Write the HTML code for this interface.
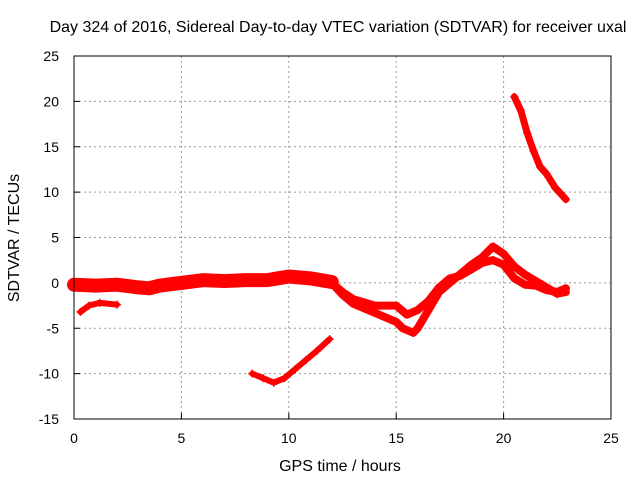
<!DOCTYPE html>
<html><head><meta charset="utf-8"><style>
body{margin:0;background:#fff}
svg text{font-family:"Liberation Sans",sans-serif;font-size:14px;fill:#000}
svg text.big{font-size:16px}
</style></head><body>
<svg id="chart" width="640" height="480">
<text class="big" x="338" y="32" text-anchor="middle">Day 324 of 2016, Sidereal Day-to-day VTEC variation (SDTVAR) for receiver uxal</text>
<text class="big" x="340" y="471" text-anchor="middle">GPS time / hours</text>
<text class="big" transform="translate(19,238) rotate(-90)" text-anchor="middle">SDTVAR / TECUs</text>
<g id="grid"></g><g id="marks"></g>
<rect x="74" y="56" width="537" height="363" fill="none" stroke="#000" stroke-width="1"/>
</svg>
<script>
const xTicks=[0,5,10,15,20,25];
const yTicks=[-15,-10,-5,0,5,10,15,20,25];
const bandMain=[[0,-0.2],[1,-0.3],[2,-0.2],[3,-0.5],[3.5,-0.6],[4,-0.3],[5,0],[6,0.3],[7,0.2],[8,0.3],[9,0.3],[9.5,0.5],[10,0.7],[11,0.5],[12,0.1]];
const bandUpper=[[12,0],[12.5,-1],[13,-1.8],[14,-2.5],[15,-2.5],[15.5,-3.5],[16,-3],[16.5,-2],[17,-0.5],[17.5,0.5],[18,0.8],[18.5,1.5],[19,2.2],[19.5,2.5],[20,2],[20.5,0.5],[21,-0.2],[21.5,-0.3],[22,-0.8],[22.5,-1],[22.9,-0.6]];
const bandLower=[[12,0],[12.5,-1.3],[13,-2.3],[14,-3.3],[14.5,-3.8],[15,-4.3],[15.3,-5],[15.8,-5.5],[16,-5],[16.5,-3],[17,-1],[17.5,0],[18,1],[18.5,2],[19,2.8],[19.5,4],[20,3.2],[20.5,1.8],[21,0.9],[21.5,0.2],[22,-0.5],[22.5,-1.2],[22.9,-1]];
const shortArc=[[0.3,-3.2],[0.7,-2.5],[1.2,-2.2],[2,-2.4]];
const lowArc=[[8.3,-10],[8.8,-10.5],[9.3,-11],[9.8,-10.5],[10.3,-9.5],[10.8,-8.5],[11.3,-7.5],[11.9,-6.2]];
const lateArc=[[20.5,20.5],[20.8,19],[21.1,16.5],[21.4,14.5],[21.7,12.8],[22,12],[22.4,10.5],[22.9,9.2]];
const X=v=>74+v*(537/25), Y=v=>419-(v+15)*(363/40);
const NS="http://www.w3.org/2000/svg";
const grid=document.getElementById('grid'), marks=document.getElementById('marks');
function mk(tag,attrs,parent){const e=document.createElementNS(NS,tag);for(const k in attrs)e.setAttribute(k,attrs[k]);parent.appendChild(e);return e;}
xTicks.forEach(t=>{
 if(t>0&&t<25){const l=mk('line',{x1:X(t),x2:X(t),y1:56,y2:419,stroke:'#999','stroke-dasharray':'2,3'},grid);
 
 }
 const tk=mk('line',{x1:X(t),x2:X(t),y1:419,y2:413,stroke:'#000'},grid);
 
 
 const tx=mk('text',{x:X(t),y:443,'text-anchor':'middle'},grid);tx.textContent=t;
 
 
});
yTicks.forEach(t=>{
 if(t>-15&&t<25){const l=mk('line',{x1:74,x2:611,y1:Y(t),y2:Y(t),stroke:'#999','stroke-dasharray':'2,3'},grid);
 
 }
 const tk=mk('line',{x1:74,x2:80,y1:Y(t),y2:Y(t),stroke:'#000'},grid);
 
 
 const tx=mk('text',{x:59,y:Y(t)+5,'text-anchor':'end'},grid);tx.textContent=t;
 
 
});
function series(data,w,name){
 const p=mk('polyline',{points:data.map(d=>X(d[0])+','+Y(d[1])).join(' '),fill:'none',stroke:'#f00','stroke-width':w,'stroke-linejoin':'round','stroke-linecap':'round'},marks);
 
 
 data.forEach(d=>{const m=mk('path',{d:`M${X(d[0])-4},${Y(d[1])}h8M${X(d[0])},${Y(d[1])-4}v8`,stroke:'#f00','stroke-width':1.5},marks);
 
 });
}
series(bandMain,14,'series-main-band');
series(bandUpper,8,'series-upper-band');
series(bandLower,8,'series-lower-band');
series(shortArc,6,'series-short-arc');
series(lowArc,6,'series-low-arc');
series(lateArc,7,'series-late-arc');
</script>
</body></html>
